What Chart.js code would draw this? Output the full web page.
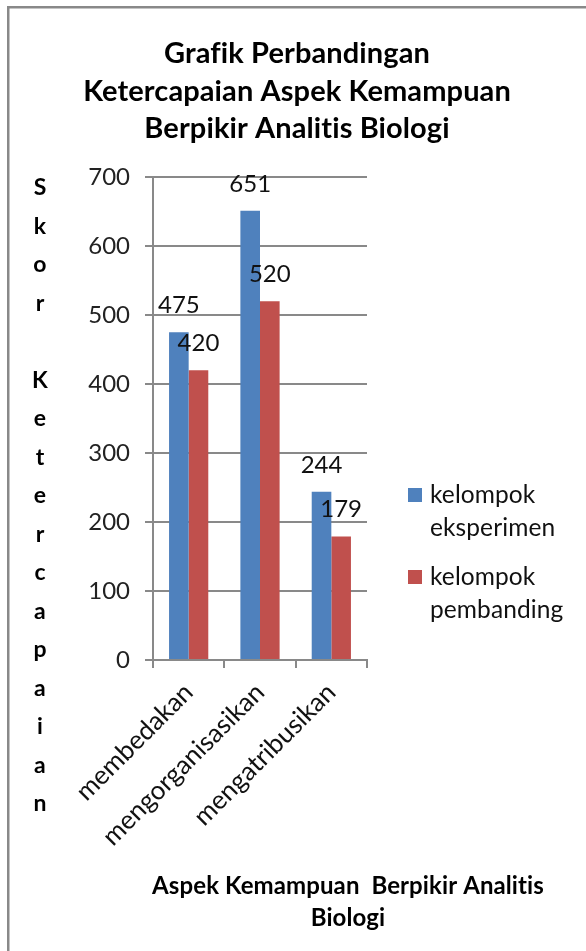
<!DOCTYPE html>
<html>
<head>
<meta charset="utf-8">
<script src="https://cdn.jsdelivr.net/npm/chart.js@4.4.0/dist/chart.umd.min.js"></script>
<style>
	html, body { margin: 0; padding: 0; background: #fff; }
	canvas { display: block; }
</style>
</head>
<body>
<canvas id="canvas" width="586" height="951"></canvas>
<script>
const kategori = ["membedakan", "mengorganisasikan", "mengatribusikan"];
const eksperimen = [475, 651, 244];
const pembanding = [420, 520, 179];
const ticksY = [0, 100, 200, 300, 400, 500, 600, 700];
const namaSeri = [["kelompok", "eksperimen"], ["kelompok", "pembanding"]];
const judul = ["Grafik Perbandingan", "Ketercapaian Aspek Kemampuan", "Berpikir Analitis Biologi"];
const judulY = "Skor Ketercapaian";
const judulX = ["Aspek Kemampuan  Berpikir Analitis", "Biologi"];

const abu = "#898989";
Chart.defaults.font.family = "Lato, 'Open Sans', sans-serif";

// bingkai, judul, legenda dan label data digambar sendiri
const tulisan = {
	id: "tulisan",
	beforeDraw(chart) {
		const ctx = chart.ctx;
		ctx.save();
		ctx.fillStyle = "#fff";
		ctx.fillRect(0, 0, chart.width, chart.height);
		ctx.strokeStyle = abu;
		ctx.lineWidth = 2.5;
		ctx.strokeRect(8.25, 7.25, 700, 1100);
		ctx.restore();
	},
	afterDatasetsDraw(chart) {
		const ctx = chart.ctx;
		ctx.save();
		ctx.fillStyle = "#111";
		ctx.font = "24px Lato";
		ctx.textAlign = "center";
		ctx.textBaseline = "alphabetic";
		chart.data.datasets.forEach((ds, i) => {
			chart.getDatasetMeta(i).data.forEach((bar, j) => {
				ctx.fillText(ds.data[j], bar.x, bar.y - 19);
			});
		});
		ctx.restore();
	},
	afterDraw(chart) {
		const ctx = chart.ctx;
		ctx.save();
		ctx.fillStyle = "#000";
		ctx.textAlign = "center";
		// tanpa ligatur fi / ti
		if ("letterSpacing" in ctx) ctx.letterSpacing = "0.1px";

		// judul
		ctx.font = "bold 29px Lato";
		ctx.textBaseline = "alphabetic";
		judul.forEach((baris, i) => ctx.fillText(baris, 297, 63 + i * 37.5));

		// judul sumbu y, huruf per huruf
		ctx.font = "bold 23px Lato";
		ctx.textBaseline = "middle";
		judulY.split("").forEach((h, i) => ctx.fillText(h, 40, 188 + i * 38.5));

		// judul sumbu x
		ctx.font = "bold 24px Lato";
		judulX.forEach((baris, i) => ctx.fillText(baris, 348, 886 + i * 32));

		// legenda
		ctx.textAlign = "left";
		ctx.font = "24.5px Lato";
		chart.data.datasets.forEach((ds, i) => {
			const y = 495 + i * 82;
			ctx.fillStyle = ds.backgroundColor;
			ctx.fillRect(408, y - 7, 14, 14);
			ctx.fillStyle = "#111";
			namaSeri[i].forEach((b, k) => ctx.fillText(b, 430, y + k * 33));
		});
		ctx.restore();
	},
};

const grafik = new Chart(document.getElementById("canvas"), {
	type: "bar",
	data: {
		labels: kategori,
		datasets: [
			{
				label: namaSeri[0].join(" "),
				data: eksperimen,
				backgroundColor: "#4F81BD",
				borderWidth: 0,
			},
			{
				label: namaSeri[1].join(" "),
				data: pembanding,
				backgroundColor: "#C0504D",
				borderWidth: 0,
			},
		],
	},
	options: {
		responsive: false,
		animation: false,
		layout: { padding: { top: 177, right: 219, bottom: 0, left: 0 } },
		datasets: { bar: { categoryPercentage: 0.55, barPercentage: 1 } },
		plugins: {
			legend: { display: false },
			title: { display: false },
			tooltip: { enabled: false },
		},
		scales: {
			x: {
				offset: true,
				afterFit: (s) => { s.height = 291; },
				grid: { offset: true, drawOnChartArea: false, drawTicks: true, tickLength: 8, color: abu, lineWidth: 2 },
				border: { display: true, color: abu, width: 2 },
				ticks: { minRotation: 45, maxRotation: 45, padding: 9, color: "#111", font: { size: 26 } },
			},
			y: {
				min: 0,
				max: 700,
				afterFit: (s) => { s.width = 153; },
				afterBuildTicks: (s) => { s.ticks = ticksY.map((v) => ({ value: v })); },
				grid: { color: abu, lineWidth: 2, drawTicks: true, tickLength: 8 },
				border: { display: true, color: abu, width: 2 },
				ticks: { padding: 15, color: "#222", font: { size: 24 } },
			},
		},
	},
	plugins: [tulisan],
});
</script>
</body>
</html>
